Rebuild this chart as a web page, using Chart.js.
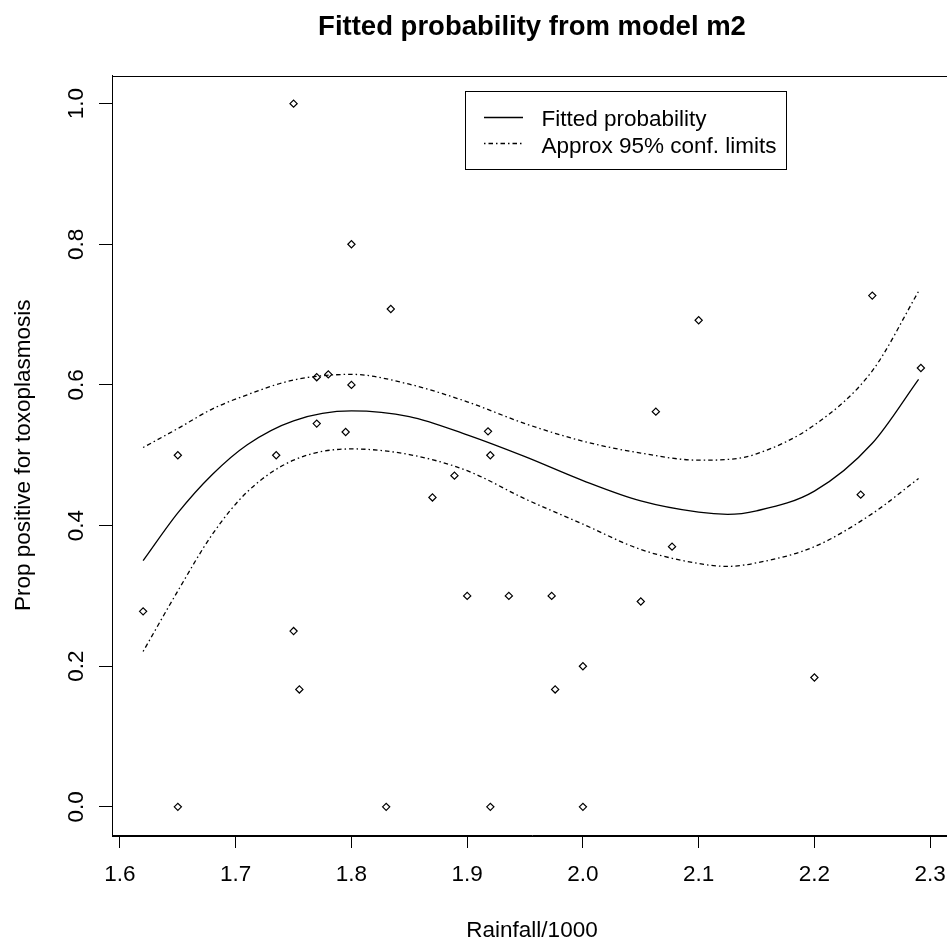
<!DOCTYPE html>
<html>
<head>
<meta charset="utf-8">
<title>Fitted probability from model m2</title>
<script src="https://cdn.jsdelivr.net/npm/chart.js@4.4.1/dist/chart.umd.min.js"></script>
<style>
  html, body { margin: 0; padding: 0; background: #fff; overflow: hidden; }
  #wrap { width: 962px; height: 941px; }
  canvas { display: block; }
</style>
</head>
<body>
<div id="wrap"><canvas id="chart" width="962" height="941"></canvas></div>
<script>
// observed proportions (one point per city)
const rainfall = [1.62, 1.65, 1.65, 1.75, 1.735, 1.75, 1.755, 1.77, 1.78, 1.77, 1.80, 1.80, 1.795, 1.834, 1.83, 1.87, 1.889,
                  1.90, 1.918, 1.92, 1.92, 1.936, 1.973, 1.976, 2.00, 2.00, 2.05, 2.063, 2.077, 2.10, 2.20, 2.24, 2.25, 2.292];
const propPositive = [0.278, 0.5, 0, 1.0, 0.5, 0.25, 0.167, 0.611, 0.615, 0.545, 0.80, 0.60, 0.533, 0.708, 0, 0.44, 0.471,
                      0.30, 0.534, 0.50, 0, 0.30, 0.30, 0.167, 0.20, 0, 0.292, 0.562, 0.37, 0.692, 0.184, 0.444, 0.727, 0.624];

const curveRain  = [1.62, 1.65, 1.68, 1.71, 1.75, 1.80, 1.85, 1.90, 1.95, 2.00, 2.05, 2.10, 2.125, 2.15, 2.20, 2.25, 2.29];
const fittedProb = [0.350, 0.418, 0.473, 0.515, 0.549, 0.563, 0.555, 0.529, 0.498, 0.464, 0.435, 0.419, 0.416, 0.421, 0.449, 0.517, 0.608];
const upperLimit = [0.511, 0.538, 0.566, 0.586, 0.607, 0.615, 0.601, 0.576, 0.545, 0.520, 0.503, 0.493, 0.494, 0.502, 0.543, 0.620, 0.733];
const lowerLimit = [0.221, 0.307, 0.388, 0.448, 0.493, 0.509, 0.501, 0.478, 0.438, 0.402, 0.366, 0.346, 0.342, 0.347, 0.370, 0.417, 0.467];

const xTicks = [1.6, 1.7, 1.8, 1.9, 2.0, 2.1, 2.2, 2.3];
const yTicks = [0.0, 0.2, 0.4, 0.6, 0.8, 1.0];

const fam = "'Liberation Sans', Arial, sans-serif";
const confDash = [1.5, 3, 4.5, 3];

function pts(xs, ys) { return xs.map((x, i) => ({ x: x, y: ys[i] })); }

// R style: axis range = data range + 4% each side
const xLo = Math.min(...rainfall), xHi = Math.max(...rainfall);
const xPad = 0.04 * (xHi - xLo);

// box round the plot region
const plotBox = {
    id: 'plotBox',
    afterDraw(chart) {
        const a = chart.chartArea, ctx = chart.ctx;
        ctx.save();
        ctx.strokeStyle = '#000';
        ctx.lineWidth = 1;
        ctx.strokeRect(Math.round(a.left) + 0.5, Math.round(a.top) + 0.5, Math.round(a.right - a.left), Math.round(a.bottom - a.top));
        ctx.restore();
    }
};

// framed legend like R's legend()
const legendItems = [
    { text: 'Fitted probability', dash: [] },
    { text: 'Approx 95% conf. limits', dash: confDash }
];
const rLegend = {
    id: 'rLegend',
    afterDraw(chart) {
        const ctx = chart.ctx;
        ctx.save();
        ctx.strokeStyle = '#000';
        ctx.lineWidth = 1;
        ctx.strokeRect(465.5, 91.5, 321, 78);
        ctx.font = '22.5px ' + fam;
        ctx.fillStyle = '#000';
        ctx.textBaseline = 'alphabetic';
        legendItems.forEach((it, i) => {
            const yLine = 117.5 + i * 26;
            ctx.setLineDash(it.dash);
            ctx.lineWidth = 1.3;
            ctx.beginPath();
            ctx.moveTo(484, yLine);
            ctx.lineTo(523, yLine);
            ctx.stroke();
            ctx.setLineDash([]);
            ctx.fillText(it.text, 541.5, 126 + i * 26.5);
        });
        ctx.restore();
    }
};

const curveStyle = { type: 'line', showLine: true, borderColor: '#000', borderWidth: 1.3, pointRadius: 0,
                     fill: false, cubicInterpolationMode: 'monotone' };

new Chart(document.getElementById('chart'), {
    type: 'scatter',
    data: {
        datasets: [
            { label: 'Observed', data: pts(rainfall, propPositive), pointStyle: 'rectRot', pointRadius: 3.6,
              borderColor: '#000', backgroundColor: 'rgba(0,0,0,0)', borderWidth: 1.2 },
            Object.assign({ label: 'Fitted probability', data: pts(curveRain, fittedProb) }, curveStyle),
            Object.assign({ label: 'Approx 95% conf. limits', data: pts(curveRain, upperLimit), borderDash: confDash }, curveStyle),
            Object.assign({ label: 'Approx 95% conf. limits', data: pts(curveRain, lowerLimit), borderDash: confDash }, curveStyle)
        ]
    },
    options: {
        responsive: false, animation: false, devicePixelRatio: 1,
        layout: { padding: { left: 0, right: 10, top: 0, bottom: 0 } },
        plugins: {
            legend: { display: false },
            tooltip: { enabled: false },
            title: {
                display: true, fullSize: false, color: '#000',
                text: 'Fitted probability from model m2',
                font: { family: fam, size: 27.5, weight: 'bold', lineHeight: 1.2 },
                padding: { top: 10.5, bottom: 32 }
            }
        },
        scales: {
            x: {
                type: 'linear', min: xLo - xPad, max: xHi + xPad,
                afterBuildTicks: s => { s.ticks = xTicks.map(v => ({ value: v })); },
                afterFit: s => { s.height = 106; },
                ticks: { callback: v => v.toFixed(1), font: { family: fam, size: 22.5 }, color: '#000',
                         padding: 13.5, autoSkip: false, maxRotation: 0 },
                grid: { drawOnChartArea: false, drawTicks: true, tickLength: 13, color: '#000', lineWidth: 1 },
                border: { display: true, color: '#000', width: 1 },
                title: { display: true, text: 'Rainfall/1000', color: '#000',
                         font: { family: fam, size: 22.5, lineHeight: 0.9 }, padding: { top: 0, bottom: 0 } }
            },
            y: {
                type: 'linear', min: -0.04, max: 1.04,
                afterBuildTicks: s => { s.ticks = yTicks.map(v => ({ value: v })); },
                afterFit: s => { s.width = 112; },
                ticks: { callback: v => v.toFixed(1), font: { family: fam, size: 22.5 }, color: '#000',
                         padding: 6.5, autoSkip: false, minRotation: 90, maxRotation: 90, crossAlign: 'center' },
                grid: { drawOnChartArea: false, drawTicks: true, tickLength: 13, color: '#000', lineWidth: 1 },
                border: { display: true, color: '#000', width: 1 },
                title: { display: true, text: 'Prop positive for toxoplasmosis', color: '#000',
                         font: { family: fam, size: 22.5, lineHeight: 1.2 }, padding: { top: 10.5, bottom: 0 } }
            }
        }
    },
    plugins: [plotBox, rLegend]
});
</script>
</body>
</html>
